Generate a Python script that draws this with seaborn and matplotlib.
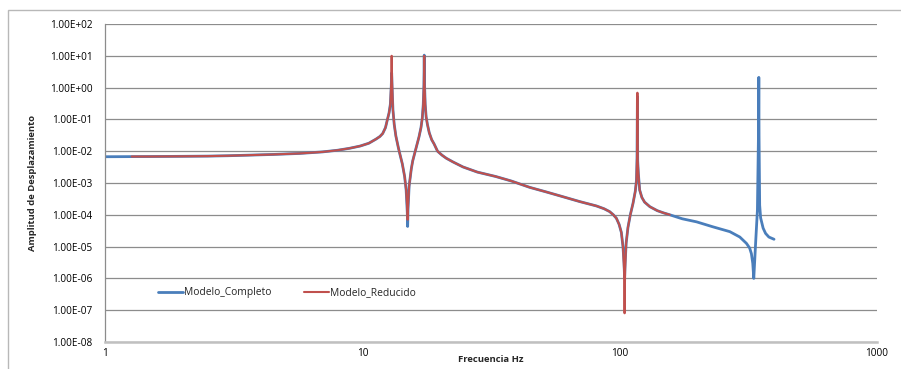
import pandas as pd
import seaborn as sns
import matplotlib.pyplot as plt
from matplotlib.patches import Rectangle
from matplotlib.ticker import FixedLocator, FuncFormatter

# Frequency response (Hz, displacement amplitude)
freq_completo = [1.0, 1.5, 2, 2.5, 3, 3.6, 4.5, 5.7, 7, 8, 8.9, 9.8, 10.6, 11.3, 11.7, 12.0, 12.3,
                 12.5, 12.7, 12.85, 12.95, 13.0, 13.05, 13.15, 13.3, 13.5, 13.8, 14.0, 14.3, 14.6,
                 14.8, 14.95, 15.0, 15.05, 15.2, 15.5, 15.7, 16.0, 16.3, 16.6, 16.9, 17.1, 17.25,
                 17.35, 17.4, 17.45, 17.55, 17.7, 17.9, 18.2, 18.6, 19.0, 19.6, 20.4, 21.2, 22.5,
                 24.6, 28, 33, 38, 44.7, 52, 60.2, 70, 81.2, 87, 91.4, 94.5, 97.1, 99.5, 101.5,
                 103, 104, 104.5, 105, 106, 107.7, 110, 112.7, 115, 116.2, 116.8, 117.2, 117.5,
                 118.2, 119.6, 122, 125, 131, 140, 148, 156.6, 175, 199, 230, 268, 293, 311, 320,
                 325, 329, 332, 335, 338, 343, 346.5, 347.3, 348, 350, 353, 361, 369, 380, 398]
amp_completo = [6.7e-3, 6.8e-3, 6.9e-3, 7.0e-3, 7.2e-3, 7.5e-3, 7.9e-3, 8.5e-3, 9.5e-3, 1.07e-2,
                1.23e-2, 1.45e-2, 1.78e-2, 2.4e-2, 2.9e-2, 3.6e-2, 5.5e-2, 9.5e-2, 0.16, 0.3,
                1.0, 2.9, 1.0, 0.2, 7e-2, 3e-2, 1.3e-2, 8e-3, 4e-3, 1.6e-3, 6e-4, 1.2e-4, 4.3e-5,
                1.5e-4, 8e-4, 2.8e-3, 5e-3, 9e-3, 1.6e-2, 2.8e-2, 5.5e-2, 0.11, 0.3, 1.2, 10.5,
                1.2, 0.3, 0.12, 7e-2, 3.8e-2, 2.3e-2, 1.7e-2, 1.0e-2, 7.5e-3, 6e-3, 4.6e-3,
                3.2e-3, 2.2e-3, 1.6e-3, 1.15e-3, 7.3e-4, 5.2e-4, 3.7e-4, 2.6e-4, 1.9e-4, 1.55e-4,
                1.26e-4, 1.0e-4, 7.8e-5, 5e-5, 2.8e-5, 1e-5, 3e-6, 1.0e-6, 3e-6, 1.3e-5, 4e-5,
                1e-4, 2.3e-4, 5.5e-4, 1.2e-3, 6e-3, 0.52, 5e-3, 2e-3, 6e-4, 3.5e-4, 2.5e-4,
                1.8e-4, 1.35e-4, 1.15e-4, 1e-4, 7.5e-5, 6e-5, 4.2e-5, 2.95e-5, 2e-5, 1.26e-5,
                9e-6, 6e-6, 3e-6, 1e-6, 4e-6, 1.6e-5, 1.4e-4, 0.05, 2.1, 0.03, 2e-4, 8e-5,
                3.8e-5, 2.6e-5, 2e-5, 1.7e-5]

freq_reducido = [1.27, 1.5, 2, 2.5, 3, 3.6, 4.5, 5.7, 7, 8, 8.9, 9.8, 10.6, 11.3, 11.7, 12.0, 12.3,
                 12.5, 12.7, 12.85, 12.95, 13.0, 13.05, 13.15, 13.3, 13.5, 13.8, 14.0, 14.3, 14.6,
                 14.8, 14.95, 15.0, 15.05, 15.2, 15.5, 15.7, 16.0, 16.3, 16.6, 16.9, 17.1, 17.25,
                 17.35, 17.4, 17.45, 17.55, 17.7, 17.9, 18.2, 18.6, 19.0, 19.6, 20.4, 21.2, 22.5,
                 24.6, 28, 33, 38, 44.7, 52, 60.2, 70, 81.2, 87, 91.4, 94.5, 97.1, 99.5, 101.5,
                 103, 104, 104.5, 105, 106, 107.7, 110, 112.7, 115, 116.2, 116.8, 117.2, 117.5,
                 118.2, 119.6, 122, 125, 131, 140, 148, 156.6]
amp_reducido = [6.8e-3, 6.8e-3, 6.9e-3, 7.0e-3, 7.2e-3, 7.5e-3, 7.9e-3, 8.5e-3, 9.5e-3, 1.07e-2,
                1.23e-2, 1.45e-2, 1.78e-2, 2.4e-2, 2.9e-2, 3.6e-2, 5.5e-2, 9.5e-2, 0.16, 0.3,
                1.5, 10.0, 1.5, 0.2, 7e-2, 3e-2, 1.3e-2, 8e-3, 4e-3, 1.6e-3, 6e-4, 1.5e-4, 7e-5,
                1.8e-4, 8e-4, 2.8e-3, 5e-3, 9e-3, 1.6e-2, 2.8e-2, 5.5e-2, 0.11, 0.3, 1.2, 10.0,
                1.2, 0.3, 0.12, 7e-2, 3.8e-2, 2.3e-2, 1.7e-2, 1.0e-2, 7.5e-3, 6e-3, 4.6e-3,
                3.2e-3, 2.2e-3, 1.6e-3, 1.15e-3, 7.3e-4, 5.2e-4, 3.7e-4, 2.6e-4, 1.9e-4, 1.55e-4,
                1.26e-4, 1.0e-4, 7.8e-5, 5e-5, 2.8e-5, 1e-5, 2e-6, 8e-8, 2e-6, 1.3e-5, 4e-5,
                1e-4, 2.3e-4, 5.5e-4, 1.2e-3, 6e-3, 0.69, 5e-3, 2e-3, 6e-4, 3.5e-4, 2.5e-4,
                1.8e-4, 1.35e-4, 1.15e-4, 1e-4]

y_ticks = [1e2, 1e1, 1e0, 1e-1, 1e-2, 1e-3, 1e-4, 1e-5, 1e-6, 1e-7, 1e-8]
x_ticks = [1, 10, 100, 1000]

sns.set_style("white")
plt.rcParams['font.family'] = ['Open Sans', 'DejaVu Sans']

fig = plt.figure(figsize=(9.01, 3.69), dpi=100)
ax = fig.add_axes([105 / 901, 1 - 342 / 369, 772 / 901, 318 / 369])

# outer chart border (clipped at right/bottom like the reference)
fig.patches.append(Rectangle((8 / 901, -0.1), 1.0, 1 - 10 / 369 + 0.1, transform=fig.transFigure,
                             fill=False, edgecolor='#b8b8b8', linewidth=1.0))

df_c = pd.DataFrame({"f": freq_completo, "a": amp_completo})
df_r = pd.DataFrame({"f": freq_reducido, "a": amp_reducido})

sns.lineplot(data=df_c, x="f", y="a", sort=False, estimator=None, color='#4a7ebb',
             linewidth=2.0, label="Modelo_Completo", ax=ax)
sns.lineplot(data=df_r, x="f", y="a", sort=False, estimator=None, color='#c0504d',
             linewidth=1.5, label="Modelo_Reducido", ax=ax)

ax.set_xscale('log')
ax.set_yscale('log')
ax.set_xlim(1, 1000)
ax.set_ylim(1e-8, 1e2)
ax.xaxis.set_major_locator(FixedLocator(x_ticks))
ax.xaxis.set_major_formatter(FuncFormatter(lambda v, p: f"{v:g}"))
ax.xaxis.set_minor_locator(FixedLocator([]))
ax.yaxis.set_major_locator(FixedLocator(y_ticks))
ax.yaxis.set_major_formatter(FuncFormatter(lambda v, p: f"{v:.2E}"))
ax.yaxis.set_minor_locator(FixedLocator([]))
ax.tick_params(axis='both', length=0, labelsize=7.2, colors='#000000')
ax.tick_params(axis='y', pad=9)
ax.tick_params(axis='x', pad=4)

ax.grid(axis='y', color='#8c8c8c', linewidth=0.9)
ax.set_axisbelow(True)
for s in ['top', 'right']:
    ax.spines[s].set_visible(False)
ax.spines['left'].set_color('#8c8c8c')
ax.spines['left'].set_linewidth(0.9)
ax.spines['bottom'].set_color('#c0c0c0')
ax.spines['bottom'].set_linewidth(1.8)

ax.set_xlabel("Frecuencia Hz", fontsize=6.8, fontweight='bold')
ax.xaxis.set_label_coords(0.5, -0.04)
ax.set_ylabel("Amplitud de Desplazamiento", fontsize=6.8, fontweight='bold', labelpad=9)

ax.legend(loc='center left', bbox_to_anchor=(0.057, 0.155), ncol=2, frameon=False, fontsize=7.4,
          handlelength=2.4, handletextpad=0.1, columnspacing=3.2)

fig.savefig("out.png", dpi=100)
